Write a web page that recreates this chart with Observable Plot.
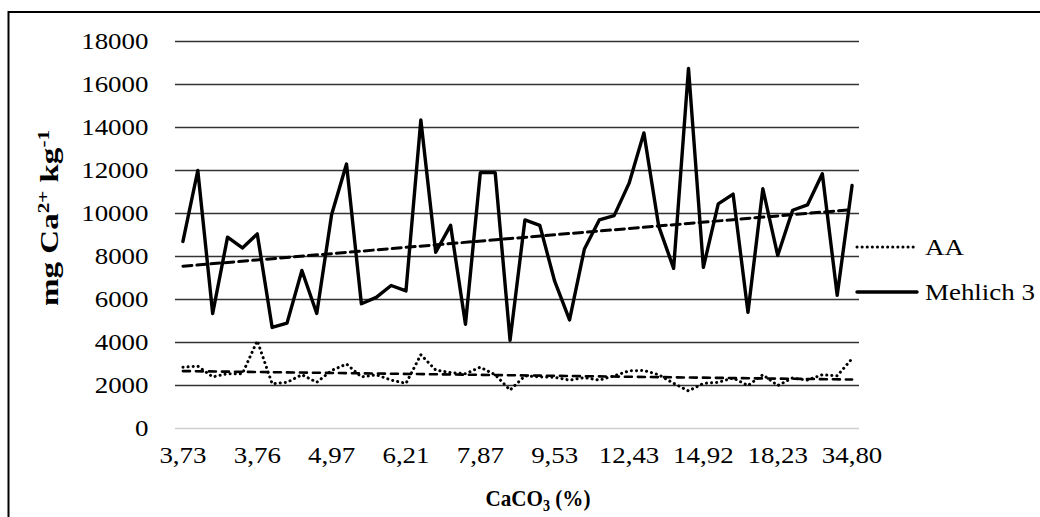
<!DOCTYPE html>
<html><head><meta charset="utf-8">
<script src="https://cdn.jsdelivr.net/npm/d3@7"></script>
<script src="https://cdn.jsdelivr.net/npm/@observablehq/plot@0.6"></script>
<style>
html,body{margin:0;padding:0;background:#fff;}
#chart{position:relative;width:1040px;height:517px;overflow:hidden;}
</style></head><body><div id="chart"></div>
<script>
// x tick labels (CaCO3 %), one every 5th sample
const tickLabels = ["3,73","3,76","4,97","6,21","7,87","9,53","12,43","14,92","18,23","34,80"];
// Mehlich 3 extracted Ca (mg kg-1), 46 samples
const mehlich3 = [8700,12000,5350,8900,8400,9050,4700,4900,7350,5350,
  9950,12300,5800,6100,6650,6400,14350,8200,9450,4850,
  11900,11900,4100,9700,9450,6850,5050,8350,9700,9900,
  11400,13750,9400,7450,16750,7500,10450,10900,5400,11150,
  8050,10150,10400,11850,6200,11300];
// AA extracted Ca (mg kg-1), 46 samples
const aa = [2850,2900,2400,2550,2550,4080,2080,2150,2500,2150,
  2700,3000,2400,2500,2250,2100,3430,2720,2600,2550,
  2850,2500,1790,2450,2400,2380,2250,2370,2250,2450,
  2680,2700,2500,2100,1750,2100,2150,2350,2000,2500,
  2000,2350,2250,2500,2450,3250];
const yTicks = [0,2000,4000,6000,8000,10000,12000,14000,16000,18000];
const seriesNames = ["AA","Mehlich 3"];

const mData = mehlich3.map((v,i)=>({i,v}));
const aData = aa.map((v,i)=>({i,v}));
const FONT = "'Liberation Serif','Times New Roman',serif";

const chart = Plot.plot({
  width:1040, height:517,
  marginLeft:175, marginRight:181, marginTop:41, marginBottom:89,
  style:{fontFamily:FONT, fontSize:"23px", color:"#000", background:"#fff", overflow:"visible"},
  x:{type:"linear", domain:[-0.5,45.5], ticks: tickLabels.map((_,k)=>k*5),
     tickFormat: i => tickLabels[Math.round(i/5)], tickSize:0, tickPadding:18, label:null},
  y:{domain:[0,18000], ticks:yTicks, tickSize:0, tickPadding:27, label:null, tickFormat: d=>String(d)},
  marks:[
    Plot.ruleY(yTicks.filter(d=>d>0), {stroke:"#333", strokeWidth:1.4}),
    Plot.ruleY([0], {stroke:"#cfcfcf", strokeWidth:1.4}),
    Plot.line(aData, {x:"i", y:"v", stroke:"#000", strokeWidth:3, strokeDasharray:"0.1,5", strokeLinecap:"round"}),
    Plot.linearRegressionY(aData, {x:"i", y:"v", stroke:"#000", strokeWidth:2.6, strokeDasharray:"7,6", ci:0}),
    Plot.line(mData, {x:"i", y:"v", stroke:"#000", strokeWidth:3.4}),
    Plot.linearRegressionY(mData, {x:"i", y:"v", stroke:"#000", strokeWidth:3, strokeDasharray:"9,5", ci:0})
  ]
});
document.getElementById("chart").appendChild(chart);

const svg = d3.select(chart);
// stretch the tick labels horizontally (reference font is wide)
svg.selectAll("text").each(function(){
  const L = this.getComputedTextLength();
  if (L>0){ this.setAttribute("textLength", (L*1.17).toFixed(1)); this.setAttribute("lengthAdjust","spacingAndGlyphs"); }
});

// chart border
svg.append("rect").attr("x",8.5).attr("y",12).attr("width",1100).attr("height",600)
  .attr("fill","none").attr("stroke","#000").attr("stroke-width",2);

// y axis title
const yt = svg.append("text")
  .attr("transform","translate(58,218) rotate(-90)")
  .attr("text-anchor","middle").attr("font-family",FONT).attr("font-weight","bold").attr("font-size",25)
  .attr("textLength",176).attr("lengthAdjust","spacingAndGlyphs");
yt.append("tspan").text("mg Ca");
yt.append("tspan").attr("font-size",16).attr("dy",-9).text("2+");
yt.append("tspan").attr("dy",9).text(" kg");
yt.append("tspan").attr("font-size",16).attr("dy",-9).text("-1");

// x axis title
const xt = svg.append("text").attr("transform","translate(538,506) scale(0.88,1)")
  .attr("text-anchor","middle").attr("font-family",FONT).attr("font-weight","bold").attr("font-size",24);
xt.append("tspan").text("CaCO");
xt.append("tspan").attr("font-size",16).attr("dy",5).text("3");
xt.append("tspan").attr("dy",-5).text(" (%)");

// legend
const leg = [{name:seriesNames[0], y:247, dash:"0.1,5", w:3},{name:seriesNames[1], y:292, dash:null, w:3.4}];
leg.forEach(d=>{
  const l = svg.append("line").attr("x1",857).attr("x2",917).attr("y1",d.y).attr("y2",d.y)
    .attr("stroke","#000").attr("stroke-width",d.w).attr("stroke-linecap","round");
  if (d.dash) l.attr("stroke-dasharray",d.dash);
  const t = svg.append("text").attr("x",925).attr("y",d.y).attr("dy","0.33em").attr("text-anchor","start")
    .attr("font-family",FONT).attr("font-size",23).text(d.name);
  const L = t.node().getComputedTextLength();
  t.attr("textLength",(L*1.17).toFixed(1)).attr("lengthAdjust","spacingAndGlyphs");
});
</script></body></html>
